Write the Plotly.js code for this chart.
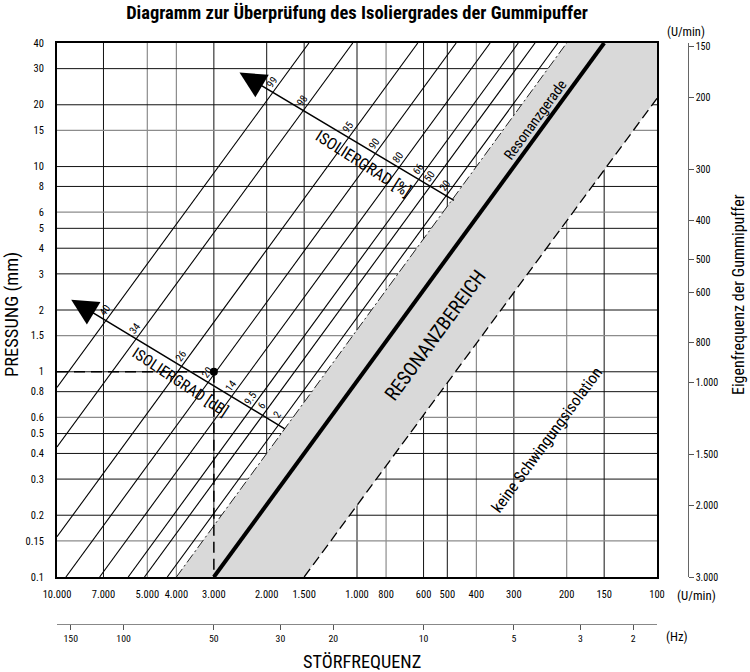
<!DOCTYPE html>
<html><head><meta charset="utf-8">
<script src="https://cdn.plot.ly/plotly-3.0.1.min.js"></script>
<style>html,body{margin:0;padding:0;background:#fff}</style>
</head><body>
<div id="chart" style="width:750px;height:672px"></div>
<script>
const FONT = '"Roboto Condensed", "DejaVu Sans Condensed", sans-serif';

// ---- axis ticks ----
const rpmTicks = [10000,7000,5000,4000,3000,2000,1500,1000,800,600,500,400,300,200,150,100];
const rpmTickText = ['10.000','7.000','5.000','4.000','3.000','2.000','1.500','1.000','800','600','500','400','300','200','150','100'];
const mmTicks = [0.1,0.15,0.2,0.3,0.4,0.5,0.6,0.8,1,1.5,2,3,4,5,6,8,10,15,20,30,40];
const mmTickText = ['0.1','0.15','0.2','0.3','0.4','0.5','0.6','0.8','1','1.5','2','3','4','5','6','8','10','15','20','30','40'];
const hzTicks = [150,100,50,30,20,10,5,3,2];
const hzTickText = ['150','100','50','30','20','10','5','3','2'];
const eigenTicks = [150,200,300,400,500,600,800,1000,1500,2000,3000];
const eigenTickText = ['150','200','300','400','500','600','800','1.000','1.500','2.000','3.000'];

// ---- grid lines (dark / grey) ----
const rpmGridDark = [7000,3000,2000,1500,1000,600,500,300,150];
const rpmGridGrey = [5000,4000,800,400,200];
const mmGridDark = [30,20,10,8,5,4,3,2,1,0.8,0.5,0.4,0.3,0.2];
const mmGridGrey = [15,6,1.5,0.6,0.15];

// ---- isolation lines (Störfrequenz rpm, Pressung mm) ----
const isoStartRpm = [10000, 10000, 10000, 9340, 7210, 5790, 5110, 4290];
const isoStartMm  = [0.84, 0.43, 0.157, 0.1, 0.1, 0.1, 0.1, 0.1];
const isoEndRpm   = [1446, 1033, 627, 467, 360, 290, 255, 214];
const isoEndMm    = [40, 40, 40, 40, 40, 40, 40, 40];
const isoPercent  = ['99','98','95','90','80','66','50','20'];
const isoDb       = ['40','34','26','20','14','9.5','6','2'];

// ---- resonance ----
const resonanceRpm = [3000, 150];
const resonanceMm  = [0.1, 40];
const zoneRpm = [4000, 1500, 100, 100, 200];
const zoneMm  = [0.1, 0.1, 21.5, 40, 40];
const zoneLeftRpm = [4000, 200];
const zoneLeftMm  = [0.1, 40];
const zoneRightRpm = [1500, 100];
const zoneRightMm  = [0.1, 21.5];

// ---- example reading ----
const exampleRpm = 3000;
const exampleMm = 1;

// ---- scale arrows: [tip, tail] ----
const upperArrowRpm = [2464, 470];
const upperArrowMm  = [28.7, 6.78];
const lowerArrowRpm = [8967, 1721];
const lowerArrowMm  = [2.246, 0.522];

const L = Math.log10;
const W = 750, H = 672, mL = 57, mR = 50, mT = 43, mB = 40;
const PW = W - mL - mR, PH = H - mT - mB;
const px = v => (v - mL) / PW;
const py = v => (H - mB - v) / PH;
const xDomEnd = 600 / PW;
const yDomStart = (H - mB - 577) / PH;

const traces = [];
traces.push({x: zoneRpm, y: zoneMm, mode: 'lines', fill: 'toself', fillcolor: '#d9d9d9',
  line: {width: 0}, hoverinfo: 'skip', showlegend: false});
const isoX = [], isoY = [];
for (let i = 0; i < isoStartRpm.length; i++) {
  isoX.push(isoStartRpm[i], isoEndRpm[i], null);
  isoY.push(isoStartMm[i], isoEndMm[i], null);
}
traces.push({x: isoX, y: isoY, mode: 'lines', line: {color: '#000', width: 1.1}, hoverinfo: 'skip', showlegend: false});
traces.push({x: zoneLeftRpm, y: zoneLeftMm, mode: 'lines', line: {color: '#222', width: 1, dash: '10px,3px,2px,3px'}, hoverinfo: 'skip', showlegend: false});
traces.push({x: zoneRightRpm, y: zoneRightMm, mode: 'lines', line: {color: '#000', width: 1.3, dash: '10px,5px'}, hoverinfo: 'skip', showlegend: false});
traces.push({x: resonanceRpm, y: resonanceMm, mode: 'lines', line: {color: '#000', width: 4}, hoverinfo: 'skip', showlegend: false});
traces.push({x: [rpmTicks[0], exampleRpm, null, exampleRpm, exampleRpm], y: [exampleMm, exampleMm, null, exampleMm, mmTicks[0]],
  mode: 'lines', line: {color: '#000', width: 1.5, dash: '11px,6px'}, hoverinfo: 'skip', showlegend: false});
traces.push({x: [exampleRpm], y: [exampleMm], mode: 'markers', marker: {color: '#000', size: 8}, hoverinfo: 'skip', showlegend: false});
traces.push({x: [null], y: [null], xaxis: 'x2', yaxis: 'y', hoverinfo: 'skip', showlegend: false});
traces.push({x: [null], y: [null], xaxis: 'x', yaxis: 'y2', hoverinfo: 'skip', showlegend: false});

const shapes = [];
rpmGridGrey.forEach(v => shapes.push({type: 'line', xref: 'x', yref: 'y domain', x0: v, x1: v, y0: 0, y1: 1, layer: 'below', line: {color: '#8c8c8c', width: 1.2}}));
rpmGridDark.forEach(v => shapes.push({type: 'line', xref: 'x', yref: 'y domain', x0: v, x1: v, y0: 0, y1: 1, layer: 'below', line: {color: '#111', width: 1}}));
mmGridGrey.forEach(v => shapes.push({type: 'line', xref: 'x domain', yref: 'y', x0: 0, x1: 1, y0: v, y1: v, layer: 'below', line: {color: '#8c8c8c', width: 1.2}}));
mmGridDark.forEach(v => shapes.push({type: 'line', xref: 'x domain', yref: 'y', x0: 0, x1: 1, y0: v, y1: v, layer: 'below', line: {color: '#111', width: 1}}));

function intersect(a1, a2, b1, b2) {
  const [x1, y1] = a1, [x2, y2] = a2, [x3, y3] = b1, [x4, y4] = b2;
  const d = (x1 - x2) * (y3 - y4) - (y1 - y2) * (x3 - x4);
  const t = ((x1 - x3) * (y3 - y4) - (y1 - y3) * (x3 - x4)) / d;
  return [x1 + t * (x2 - x1), y1 + t * (y2 - y1)];
}

const ann = [];
const tf = (s) => ({family: FONT, size: s, color: '#000'});
function arrowAnn(rpm, mm) {
  ann.push({xref: 'x', yref: 'y', axref: 'x', ayref: 'y', x: L(rpm[0]), y: L(mm[0]), ax: L(rpm[1]), ay: L(mm[1]),
    text: '', showarrow: true, arrowhead: 2, arrowsize: 3.5, arrowwidth: 1.5, arrowcolor: '#000', standoff: 0, startstandoff: 0});
}
arrowAnn(upperArrowRpm, upperArrowMm);
arrowAnn(lowerArrowRpm, lowerArrowMm);
function scaleLabels(rpm, mm, labels) {
  for (let i = 0; i < isoStartRpm.length; i++) {
    const p = intersect([L(isoStartRpm[i]), L(isoStartMm[i])], [L(isoEndRpm[i]), L(isoEndMm[i])],
                        [L(rpm[0]), L(mm[0])], [L(rpm[1]), L(mm[1])]);
    ann.push({xref: 'x', yref: 'y', x: p[0], y: p[1], text: labels[i], showarrow: false, textangle: -54,
      xshift: -1, yshift: 10, font: tf(10.5)});
  }
}
scaleLabels(upperArrowRpm, upperArrowMm, isoPercent);
scaleLabels(lowerArrowRpm, lowerArrowMm, isoDb);

function textAnn(t, x, y, size, angle) {
  ann.push({xref: 'paper', yref: 'paper', x: px(x), y: py(y), text: t, showarrow: false,
    textangle: angle || 0, xanchor: 'center', yanchor: 'middle', font: tf(size)});
}
textAnn('ISOLIERGRAD [%]', 363, 163, 16.2, 32.5);
textAnn('ISOLIERGRAD [dB]', 180, 381.5, 15.5, 33.5);
textAnn('Resonanzgerade', 535, 120, 14.5, -53.8);
textAnn('RESONANZBEREICH', 435, 335, 19.5, -53.8);
textAnn('keine Schwingungsisolation', 546, 440, 16, -53.8);
textAnn('PRESSUNG (mm)', 12, 315, 18.5, -90);
textAnn('STÖRFREQUENZ', 361.5, 661, 18.3, 0);
textAnn('Eigenfrequenz der Gummipuffer', 738, 295, 16, -90);
textAnn('(U/min)', 686, 31.5, 12.5, 0);
textAnn('(U/min)', 696.5, 595.5, 12.8, 0);
textAnn('(Hz)', 676.5, 636.5, 12.8, 0);

const layout = {
  width: W, height: H,
  margin: {l: mL, r: mR, t: mT, b: mB, pad: 0},
  paper_bgcolor: '#fff', plot_bgcolor: '#fff',
  showlegend: false,
  font: {family: FONT, size: 10.5, color: '#000'},
  title: {text: '<b>Diagramm zur Überprüfung des Isoliergrades der Gummipuffer</b>', x: 357 / W, xanchor: 'center',
    y: 1 - 13 / H, yanchor: 'middle', font: {family: FONT, size: 18.5, color: '#000'}},
  xaxis: {type: 'log', range: [L(10000), L(100)], domain: [0, xDomEnd], tickvals: rpmTicks, ticktext: rpmTickText,
    tickangle: 0, showgrid: false, zeroline: false, ticks: '', showline: true, linewidth: 2, linecolor: '#000', mirror: true,
    ticklabelstandoff: 6, tickfont: {family: FONT, size: 10.5}},
  yaxis: {type: 'log', range: [L(0.1), L(40)], domain: [yDomStart, 1], tickvals: mmTicks, ticktext: mmTickText,
    showgrid: false, zeroline: false, ticks: '', showline: true, linewidth: 2, linecolor: '#000', mirror: true,
    ticklabelstandoff: 9, tickfont: {family: FONT, size: 10.5}},
  xaxis2: {type: 'log', overlaying: 'x', anchor: 'free', position: (H - mB - 624) / PH, side: 'bottom',
    range: [L(10000 / 60), L(100 / 60)], tickvals: hzTicks, ticktext: hzTickText, tickangle: 0, showgrid: false, zeroline: false,
    showline: true, linecolor: '#888', linewidth: 1.2, ticks: 'outside', ticklen: 5, tickcolor: '#555', tickwidth: 1,
    tickfont: {family: FONT, size: 9.8}},
  yaxis2: {type: 'log', overlaying: 'y', anchor: 'free', position: (687.5 - mL) / PW, side: 'right',
    range: [L(3000), L(147)], tickvals: eigenTicks, ticktext: eigenTickText, showgrid: false, zeroline: false,
    showline: true, linecolor: '#666', linewidth: 1.2, ticks: 'outside', ticklen: 5, tickcolor: '#555', tickwidth: 1,
    tickfont: {family: FONT, size: 10}},
  shapes: shapes,
  annotations: ann
};

Plotly.newPlot('chart', traces, layout, {staticPlot: true, displayModeBar: false});
</script>
</body></html>
